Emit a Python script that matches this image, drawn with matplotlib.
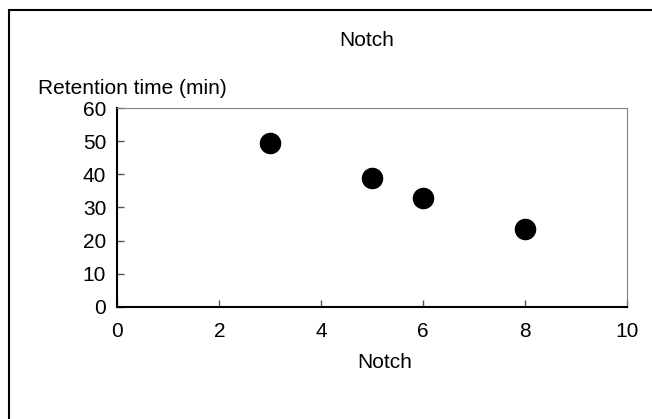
import matplotlib.pyplot as plt
from matplotlib.patches import Rectangle

plt.rcParams['font.family'] = ['Liberation Sans', 'DejaVu Sans']

# notch number vs retention time
notch = [3, 5, 6, 8]
retention_min = [49.5, 39, 33, 23.5]

W, H = 652, 419
fig = plt.figure(figsize=(W / 100, H / 100), dpi=100)

# chart frame (only top and left edges fall inside the image)
fig.patches.append(Rectangle((9 / W, -0.2), 1.2, 1.2 - 10 / H, transform=fig.transFigure,
                             fill=False, edgecolor='black', linewidth=1.5))

ax = fig.add_axes([117.3 / W, 1 - 306.7 / H, 510 / W, 198.4 / H])
ax.scatter(notch, retention_min, s=14.5 ** 2, color='black', zorder=3, clip_on=False)

ax.set_xlim(0, 10)
ax.set_ylim(0, 60)
ax.set_xticks(range(0, 11, 2))
ax.set_yticks(range(0, 61, 10))
ax.tick_params(direction='in', length=5, width=1, labelsize=15, color='#555555')
ax.tick_params(axis='x', pad=11)
ax.tick_params(axis='y', pad=8)

ax.spines['left'].set_color('black')
ax.spines['bottom'].set_color('black')
ax.spines['left'].set_linewidth(1.5)
ax.spines['bottom'].set_linewidth(1.5)
ax.spines['top'].set_color('#808080')
ax.spines['right'].set_color('#808080')

fig.text(367 / W, 1 - 40 / H, 'Notch', ha='center', va='center', fontsize=15)
fig.text(38 / W, 1 - 88 / H, 'Retention time (min)', ha='left', va='center', fontsize=15)
fig.text(385 / W, 1 - 362 / H, 'Notch', ha='center', va='center', fontsize=15)

fig.savefig('out.png', dpi=100)
